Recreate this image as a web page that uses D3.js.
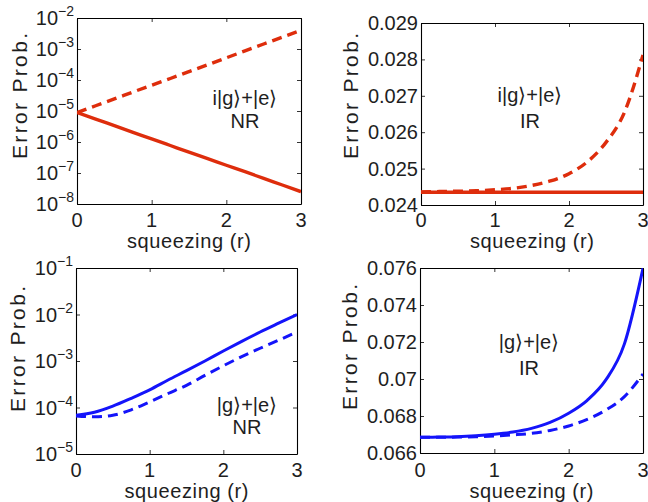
<!DOCTYPE html>
<html>
<head>
<meta charset="utf-8">
<script src="https://cdn.jsdelivr.net/npm/d3@7"></script>
<style>
  body { margin: 0; background: #fff; }
  svg { display: block; }
  text { font-family: "Liberation Sans", Arial, sans-serif; fill: #1e1e1e; }
</style>
</head>
<body>
<div id="chart"></div>
<script>
// squeezing parameter r
var rGrid = [0, 0.25, 0.5, 0.75, 1, 1.25, 1.5, 1.75, 2, 2.25, 2.5, 2.75, 3];

// i|g>+|e>, NR (log axis)
var iNrSolid  = [8.9e-6, 5.5e-6, 3.35e-6, 2.05e-6, 1.26e-6, 7.7e-7, 4.7e-7, 2.9e-7, 1.78e-7, 1.1e-7, 6.7e-8, 4.1e-8, 2.5e-8];
var iNrDashed = [8.9e-6, 1.48e-5, 2.45e-5, 4.1e-5, 6.8e-5, 1.12e-4, 1.86e-4, 3.1e-4, 5.2e-4, 8.7e-4, 1.45e-3, 2.4e-3, 4.0e-3];

// i|g>+|e>, IR
var iIrSolid  = [0.02435, 0.02435, 0.02435, 0.02435, 0.02435, 0.02435, 0.02435, 0.02435, 0.02435, 0.02435, 0.02435, 0.02435, 0.02435];
var iIrDashed = [0.02436, 0.02437, 0.02438, 0.02439, 0.02442, 0.02446, 0.02454, 0.02466, 0.02486, 0.02519, 0.02572, 0.02655, 0.02812];

// |g>+|e>, NR (log axis)
var gNrSolid  = [6.8e-5, 7.9e-5, 1.07e-4, 1.58e-4, 2.4e-4, 3.9e-4, 6.2e-4, 1.0e-3, 1.64e-3, 2.65e-3, 4.2e-3, 6.5e-3, 1.0e-2];
var gNrDashed = [6.6e-5, 6.3e-5, 6.8e-5, 8.9e-5, 1.32e-4, 2.0e-4, 3.0e-4, 4.9e-4, 7.9e-4, 1.24e-3, 1.88e-3, 2.8e-3, 4.2e-3];

// |g>+|e>, IR
var gIrSolid  = [0.06685, 0.06686, 0.06688, 0.06693, 0.06701, 0.06713, 0.06733, 0.06765, 0.06815, 0.06885, 0.06995, 0.0719, 0.07598];
var gIrDashed = [0.06685, 0.06685, 0.06686, 0.06688, 0.06692, 0.06698, 0.06706, 0.06722, 0.06746, 0.06782, 0.06832, 0.06905, 0.07027];

// ticks
var xTicks = [0, 1, 2, 3];
var logExpTop = [-8, -7, -6, -5, -4, -3, -2];
var logExpBottom = [-5, -4, -3, -2, -1];
var irTicksTop = [0.024, 0.025, 0.026, 0.027, 0.028, 0.029];
var irLabelsTop = ["0.024", "0.025", "0.026", "0.027", "0.028", "0.029"];
var irTicksBottom = [0.066, 0.068, 0.07, 0.072, 0.074, 0.076];
var irLabelsBottom = ["0.066", "0.068", "0.07", "0.072", "0.074", "0.076"];

var red = "#de2d0c";
var blue = "#1414fa";

var svg = d3.select("#chart").append("svg")
    .attr("width", 648)
    .attr("height", 502);

var panels = [
  { id: "p1", left: 77, right: 301, top: 18, bottom: 204, log: true, exps: logExpTop,
    solid: iNrSolid, dashed: iNrDashed, color: red, width: 3.4,
    note: ["i|g\u27E9+|e\u27E9", "NR"], noteX: 245, noteY: [105, 128],
    ylabX: 27, ylabY: 96, xlabY: 248, xtickY: 227 },
  { id: "p2", left: 421, right: 643, top: 23, bottom: 205, log: false,
    ticks: irTicksTop, labels: irLabelsTop,
    solid: iIrSolid, dashed: iIrDashed, color: red, width: 3.4,
    note: ["i|g\u27E9+|e\u27E9", "IR"], noteX: 530, noteY: [102, 128],
    ylabX: 358, ylabY: 96, xlabY: 248, xtickY: 227 },
  { id: "p3", left: 76, right: 297, top: 268, bottom: 454, log: true, exps: logExpBottom,
    solid: gNrSolid, dashed: gNrDashed, color: blue, width: 3,
    note: ["|g\u27E9+|e\u27E9", "NR"], noteX: 247, noteY: [412, 434],
    ylabX: 25, ylabY: 349, xlabY: 498, xtickY: 477 },
  { id: "p4", left: 420, right: 643, top: 268, bottom: 453, log: false,
    ticks: irTicksBottom, labels: irLabelsBottom,
    solid: gIrSolid, dashed: gIrDashed, color: blue, width: 3,
    note: ["|g\u27E9+|e\u27E9", "IR"], noteX: 529, noteY: [349, 375],
    ylabX: 357, ylabY: 347, xlabY: 498, xtickY: 477 }
];

panels.forEach(drawPanel);

function drawPanel(p) {
  var x = d3.scaleLinear().domain([0, 3]).range([p.left, p.right]);
  var y;
  if (p.log) {
    y = d3.scaleLog()
      .domain([Math.pow(10, p.exps[0]), Math.pow(10, p.exps[p.exps.length - 1])])
      .range([p.bottom, p.top]);
  } else {
    y = d3.scaleLinear()
      .domain([p.ticks[0], p.ticks[p.ticks.length - 1]])
      .range([p.bottom, p.top]);
  }
  var yTickVals = p.log ? p.exps.map(function(e) { return Math.pow(10, e); }) : p.ticks;

  var g = svg.append("g");

  // clip so the lines stay in the box
  svg.append("clipPath").attr("id", "clip-" + p.id)
    .append("rect")
    .attr("x", p.left).attr("y", p.top)
    .attr("width", p.right - p.left).attr("height", p.bottom - p.top);

  // inward ticks on all four sides (matlab box style)
  var axes = [
    { ax: d3.axisBottom(x).tickValues(xTicks).tickSize(-4), t: "translate(0," + p.bottom + ")" },
    { ax: d3.axisTop(x).tickValues(xTicks).tickSize(-4), t: "translate(0," + p.top + ")" },
    { ax: d3.axisLeft(y).tickValues(yTickVals).tickSize(-4), t: "translate(" + p.left + ",0)" },
    { ax: d3.axisRight(y).tickValues(yTickVals).tickSize(-4), t: "translate(" + p.right + ",0)" }
  ];
  axes.forEach(function(a) {
    var ag = g.append("g")
      .attr("transform", a.t)
      .call(a.ax.tickSizeOuter(0).tickFormat(""));
    ag.select(".domain").attr("stroke", "#000").attr("stroke-width", 1.1);
    ag.selectAll(".tick line").attr("stroke", "#000").attr("stroke-width", 0.8);
  });

  // x tick labels
  g.selectAll(".xlab").data(xTicks).enter().append("text")
    .attr("x", function(d) { return x(d); })
    .attr("y", p.xtickY)
    .attr("text-anchor", "middle")
    .style("font-size", "20px")
    .text(function(d) { return d; });

  // y tick labels
  if (p.log) {
    var lab = g.selectAll(".ylab").data(p.exps).enter().append("text")
      .attr("x", p.left - 3)
      .attr("y", function(d) { return y(Math.pow(10, d)) + 7; })
      .attr("text-anchor", "end")
      .style("font-size", "20px");
    lab.append("tspan").text("10");
    lab.append("tspan")
      .attr("dy", -9)
      .style("font-size", "14px")
      .text(function(d) { return "\u2212" + Math.abs(d); });
  } else {
    g.selectAll(".ylab").data(p.ticks).enter().append("text")
      .attr("x", p.left - 3)
      .attr("y", function(d) { return y(d) + 7; })
      .attr("text-anchor", "end")
      .style("font-size", "20px")
      .text(function(d, i) { return p.labels[i]; });
  }

  // axis titles
  g.append("text")
    .attr("x", (p.left + p.right) / 2)
    .attr("y", p.xlabY)
    .attr("text-anchor", "middle")
    .attr("textLength", 124)
    .attr("lengthAdjust", "spacing")
    .style("font-size", "20px")
    .text("squeezing (r)");

  g.append("text")
    .attr("transform", "translate(" + p.ylabX + "," + p.ylabY + ") rotate(-90)")
    .attr("text-anchor", "middle")
    .attr("textLength", 126)
    .attr("lengthAdjust", "spacing")
    .style("font-size", "21px")
    .text("Error Prob.");

  // curves
  var line = d3.line()
    .x(function(d, i) { return x(rGrid[i]); })
    .y(function(d) { return y(d); })
    .curve(d3.curveMonotoneX);

  var lines = g.append("g").attr("clip-path", "url(#clip-" + p.id + ")");
  lines.append("path")
    .datum(p.dashed)
    .attr("d", line)
    .attr("fill", "none")
    .attr("stroke", p.color)
    .attr("stroke-width", p.width)
    .attr("stroke-dasharray", "10,6");
  lines.append("path")
    .datum(p.solid)
    .attr("d", line)
    .attr("fill", "none")
    .attr("stroke", p.color)
    .attr("stroke-width", p.width);

  // state annotation
  p.note.forEach(function(t, i) {
    g.append("text")
      .attr("x", p.noteX)
      .attr("y", p.noteY[i])
      .attr("text-anchor", "middle")
      .style("font-size", "20px")
      .text(t);
  });
}
</script>
</body>
</html>
